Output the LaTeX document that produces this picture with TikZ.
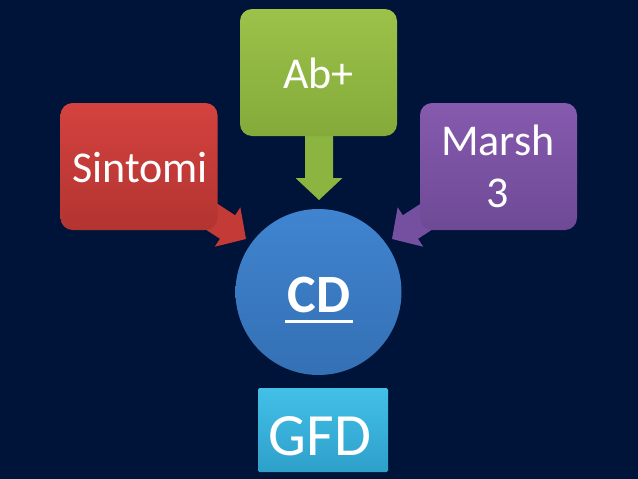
\documentclass[tikz,border=0pt]{standalone}
\usepackage{fontspec}
\setmainfont{Carlito}
\definecolor{bg}{RGB}{0,19,56}
\definecolor{redT}{RGB}{212,66,63}
\definecolor{redB}{RGB}{178,52,49}
\definecolor{redA}{RGB}{196,58,54}
\definecolor{grnT}{RGB}{156,194,74}
\definecolor{grnB}{RGB}{132,170,58}
\definecolor{grnA}{RGB}{140,180,64}
\definecolor{purT}{RGB}{134,90,174}
\definecolor{purB}{RGB}{110,74,150}
\definecolor{purA}{RGB}{118,80,160}
\definecolor{bluT}{RGB}{64,132,208}
\definecolor{bluB}{RGB}{52,112,180}
\definecolor{cyaT}{RGB}{66,192,232}
\definecolor{cyaB}{RGB}{46,160,202}
\begin{document}
\begin{tikzpicture}[x=1pt,y=-1pt,
  box/.style={rounded corners=12pt, minimum width=157pt, minimum height=127pt, inner sep=0pt},
  lbl/.style={text=white, inner sep=0pt, anchor=base, font=\fontsize{44}{53}\selectfont},
  blockarrow/.style={fill=#1, draw=none}]
\useasboundingbox (0,0) rectangle (638,479);
\fill[bg] (0,0) rectangle (638,479);
% block arrows (drawn behind the boxes)
\begin{scope}[shift={(246,239)}, rotate=-33]
  \fill[redA] (0,0) -- (-22,23.5) -- (-22,14) -- (-70,14) -- (-70,-14) -- (-22,-14) -- (-22,-23.5) -- cycle;
\end{scope}
\begin{scope}[shift={(319,200)}, rotate=-90]
  \fill[grnA] (0,0) -- (-22,23.5) -- (-22,14) -- (-80,14) -- (-80,-14) -- (-22,-14) -- (-22,-23.5) -- cycle;
\end{scope}
\begin{scope}[shift={(392,239)}, rotate=-147]
  \fill[purA] (0,0) -- (-22,23.5) -- (-22,14) -- (-70,14) -- (-70,-14) -- (-22,-14) -- (-22,-23.5) -- cycle;
\end{scope}
% boxes
\node[box, top color=redT, bottom color=redB] (sint) at (139,166.5) {};
\node[box, top color=grnT, bottom color=grnB] (ab) at (318.5,72.5) {};
\node[box, top color=purT, bottom color=purB] (mar) at (498.5,166.5) {};
\node[circle, minimum size=166pt, inner sep=0pt, top color=bluT, bottom color=bluB] (cd) at (318.5,292) {};
\node[rectangle, rounded corners=1.5pt, minimum width=130pt, minimum height=84pt, inner sep=0pt, top color=cyaT, bottom color=cyaB] (gfd) at (323,430) {};
% labels
\node[lbl] (sintL) at (140,182) {Sintomi};
\node[lbl] (abL) at (318.5,88) {Ab+};
\node[lbl] (marL) at (498,155) {Marsh};
\node[lbl] (marL2) at (498,207) {3};
\node[lbl, font=\fontsize{54}{60}\selectfont\bfseries] (cdL) at (319,312) {CD};
\draw[white, line width=3pt] ([xshift=-2pt,yshift=-9pt]cdL.base west) -- ([xshift=2pt,yshift=-9pt]cdL.base east);
\node[lbl, font=\fontsize{60}{70}\selectfont] (gfdL) at (320,455) {GFD};
\end{tikzpicture}
\end{document}
